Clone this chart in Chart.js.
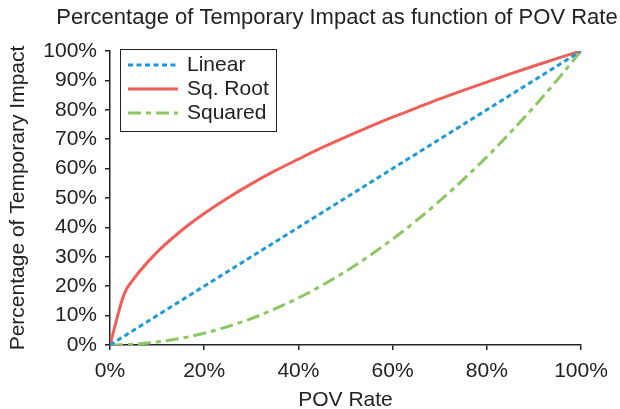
<!DOCTYPE html>
<html>
<head>
<meta charset="utf-8">
<script src="https://cdn.jsdelivr.net/npm/chart.js@4/dist/chart.umd.min.js"></script>
<style>
  html, body { margin: 0; padding: 0; background: #fff; }
  #wrap { width: 620px; height: 409px; }
</style>
</head>
<body>
<div id="wrap"><canvas id="chart" width="620" height="409"></canvas></div>
<script>
// values
const povRate = [0, 0.03, 0.05, 0.1, 0.15, 0.2, 0.25, 0.3, 0.35, 0.4, 0.45, 0.5,
                 0.55, 0.6, 0.65, 0.7, 0.75, 0.8, 0.85, 0.9, 0.95, 1]
const linearImpact = [0, 0.03, 0.05, 0.1, 0.15, 0.2, 0.25, 0.3, 0.35, 0.4, 0.45, 0.5,
                      0.55, 0.6, 0.65, 0.7, 0.75, 0.8, 0.85, 0.9, 0.95, 1]
const sqRootImpact = [0, 0.173, 0.224, 0.316, 0.387, 0.447, 0.5, 0.548, 0.592, 0.632, 0.671, 0.707,
                      0.742, 0.775, 0.806, 0.837, 0.866, 0.894, 0.922, 0.949, 0.975, 1]
const squaredImpact = [0, 0.001, 0.0025, 0.01, 0.0225, 0.04, 0.0625, 0.09, 0.1225, 0.16, 0.2025, 0.25,
                       0.3025, 0.36, 0.4225, 0.49, 0.5625, 0.64, 0.7225, 0.81, 0.9025, 1]
const seriesNames = ['Linear', 'Sq. Root', 'Squared']
const chartTitle = 'Percentage of Temporary Impact as function of POV Rate'

const FONT = 'Liberation Sans, Arial, Helvetica, sans-serif'
const INK = '#222'

function toPoints(values) {
    return values.map((v, i) => ({ x: povRate[i], y: v }))
}

const styles = [
    { color: '#1b9ad6', dash: [5, 3.5], width: 3 },
    { color: '#ef5f58', dash: [], width: 3 },
    { color: '#8cc764', dash: [13, 5, 5, 5], width: 3 },
]

const titlePlugin = {
    id: 'plainTitle',
    afterDraw(chart) {
        const ctx = chart.ctx
        ctx.save()
        ctx.font = '22px ' + FONT
        ctx.fillStyle = INK
        ctx.textAlign = 'center'
        ctx.textBaseline = 'middle'
        ctx.fillText(chartTitle, 337, 18)
        ctx.restore()
    }
}

const boxLegend = {
    id: 'boxLegend',
    afterDraw(chart) {
        const ctx = chart.ctx
        const left = chart.chartArea.left + 10
        const top = chart.chartArea.top - 2
        ctx.save()
        ctx.fillStyle = '#fff'
        ctx.fillRect(left, top, 156, 82)
        ctx.strokeStyle = INK
        ctx.lineWidth = 1
        ctx.strokeRect(left + 0.5, top + 0.5, 156, 82)
        ctx.font = '21px ' + FONT
        ctx.textBaseline = 'middle'
        chart.data.datasets.forEach((ds, i) => {
            const y = top + 16 + i * 24
            ctx.beginPath()
            ctx.strokeStyle = ds.borderColor
            ctx.lineWidth = ds.borderWidth
            ctx.setLineDash(ds.borderDash || [])
            ctx.moveTo(left + 8, y)
            ctx.lineTo(left + 58, y)
            ctx.stroke()
            ctx.setLineDash([])
            ctx.fillStyle = INK
            ctx.fillText(ds.label, left + 67, y)
        })
        ctx.restore()
    }
}

new Chart(document.getElementById('chart'), {
    type: 'line',
    data: {
        datasets: [linearImpact, sqRootImpact, squaredImpact].map((vals, i) => ({
            label: seriesNames[i],
            data: toPoints(vals),
            borderColor: styles[i].color,
            borderDash: styles[i].dash,
            borderWidth: styles[i].width,
            pointRadius: 0,
            fill: false,
            cubicInterpolationMode: 'monotone',
        })),
    },
    options: {
        responsive: false,
        animation: false,
        layout: { padding: { top: 51, right: 39, bottom: 0, left: 0 } },
        plugins: {
            legend: { display: false },
            title: { display: false },
            tooltip: { enabled: false },
        },
        scales: {
            x: {
                type: 'linear',
                min: 0,
                max: 1,
                afterFit: (s) => { s.height = 64 },
                ticks: {
                    stepSize: 0.2,
                    padding: 9,
                    color: INK,
                    font: { family: FONT, size: 21 },
                    callback: (v) => Math.round(v * 100) + '%',
                },
                grid: { drawOnChartArea: false, tickLength: 5, color: INK, lineWidth: 1.5 },
                border: { color: INK, width: 1.5 },
                title: {
                    display: true,
                    text: 'POV Rate',
                    color: INK,
                    font: { family: FONT, size: 21, lineHeight: 0.8 },
                    padding: { top: 0, bottom: 0 },
                },
            },
            y: {
                min: 0,
                max: 1,
                afterFit: (s) => { s.width = 110 },
                ticks: {
                    stepSize: 0.1,
                    padding: 8,
                    color: INK,
                    font: { family: FONT, size: 21 },
                    callback: (v) => Math.round(v * 100) + '%',
                },
                grid: { drawOnChartArea: false, tickLength: 5, color: INK, lineWidth: 1.5 },
                border: { color: INK, width: 1.5 },
                title: {
                    display: true,
                    text: 'Percentage of Temporary Impact',
                    color: INK,
                    font: { family: FONT, size: 21, lineHeight: 1 },
                    padding: { top: 8, bottom: 0 },
                },
            },
        },
    },
    plugins: [titlePlugin, boxLegend],
})
</script>
</body>
</html>
